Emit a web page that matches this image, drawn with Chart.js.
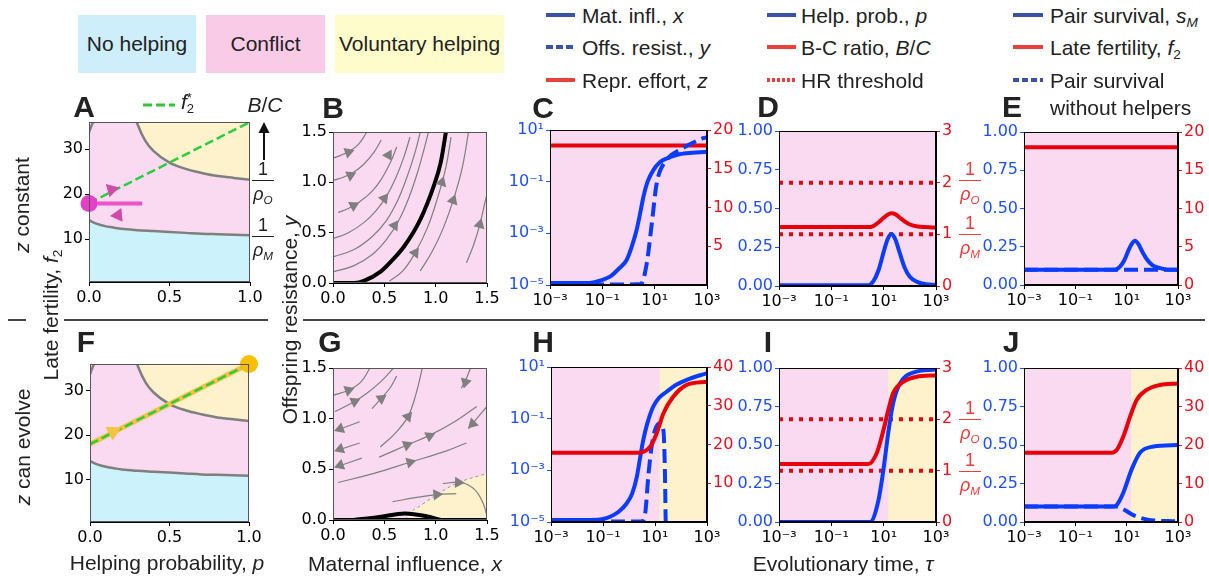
<!DOCTYPE html>
<html>
<head>
<meta charset="utf-8">
<title>Helping panels</title>
<script src="https://cdn.jsdelivr.net/npm/chart.js@4.4.1/dist/chart.umd.min.js"></script>
<style>
  body { margin: 0; width: 1209px; height: 578px; position: relative; overflow: hidden; background: #fff;
         font-family: 'Liberation Sans', Arial, sans-serif; color: #222; }
  canvas { position: absolute; }
  .c { position: absolute; transform: translate(-50%, -50%); white-space: nowrap; line-height: 1; font-size: 21px; z-index: 3; }
  .v { position: absolute; transform: translate(-50%, -50%) rotate(-90deg); white-space: nowrap; line-height: 1; font-size: 21px; z-index: 3; }
  .l { position: absolute; transform: translateY(-50%); white-space: nowrap; line-height: 1; font-size: 21px; z-index: 3; }
  .box { position: absolute; display: flex; align-items: center; justify-content: center; font-size: 21px; }
  .sw { position: absolute; height: 4px; transform: translateY(-50%); }
  .let { position: absolute; transform: translate(-50%, -50%); font-weight: bold; font-size: 30px; line-height: 1; z-index: 3; }
  .sep { position: absolute; height: 1.5px; background: #444; }
  .bar { position: absolute; height: 1.3px; z-index: 3; }
  sub { font-size: 0.65em; vertical-align: -0.3em; line-height: 0; }
</style>
</head>
<body>

<div class="box" style="left:78px;top:15px;width:118px;height:58px;background:#cdeefa">No helping</div>
<div class="box" style="left:206px;top:15px;width:119px;height:58px;background:#f9cbe6">Conflict</div>
<div class="box" style="left:335px;top:15px;width:169px;height:58px;background:#fefccb">Voluntary helping</div>

<div class="sw" style="left:546px;top:15px;width:29px;background:#3b52a5"></div>
<div class="l" style="left:582px;top:15px">Mat. infl., <i>x</i></div>
<div class="sw" style="left:546px;top:47px;width:29px;background:repeating-linear-gradient(90deg,#3b52a5 0 7px,transparent 7px 10px)"></div>
<div class="l" style="left:582px;top:47px">Offs. resist., <i>y</i></div>
<div class="sw" style="left:546px;top:80px;width:29px;background:#e8413c"></div>
<div class="l" style="left:582px;top:80px">Repr. effort, <i>z</i></div>

<div class="sw" style="left:767px;top:15px;width:29px;background:#3b52a5"></div>
<div class="l" style="left:801px;top:15px">Help. prob., <i>p</i></div>
<div class="sw" style="left:767px;top:47px;width:29px;background:#e8413c"></div>
<div class="l" style="left:801px;top:47px">B-C ratio, <i>B</i>/<i>C</i></div>
<div class="sw" style="left:767px;top:80px;width:29px;background:repeating-linear-gradient(90deg,#e8413c 0 3px,transparent 3px 5px)"></div>
<div class="l" style="left:801px;top:80px">HR threshold</div>

<div class="sw" style="left:1013px;top:15px;width:30px;background:#3b52a5"></div>
<div class="l" style="left:1050px;top:15px">Pair survival, <i>s<sub>M</sub></i></div>
<div class="sw" style="left:1013px;top:47px;width:30px;background:#e8413c"></div>
<div class="l" style="left:1050px;top:47px">Late fertility, <i>f</i><sub>2</sub></div>
<div class="sw" style="left:1013px;top:80px;width:30px;background:repeating-linear-gradient(90deg,#3b52a5 0 6px,transparent 6px 9px)"></div>
<div class="l" style="left:1050px;top:80px">Pair survival</div>
<div class="l" style="left:1050px;top:107px">without helpers</div>

<div class="let" style="left:84px;top:107px">A</div>
<div class="let" style="left:333px;top:108px">B</div>
<div class="let" style="left:543px;top:108px">C</div>
<div class="let" style="left:768px;top:107px">D</div>
<div class="let" style="left:1012px;top:107px">E</div>
<div class="let" style="left:86px;top:342px">F</div>
<div class="let" style="left:330px;top:342px">G</div>
<div class="let" style="left:543px;top:342px">H</div>
<div class="let" style="left:768px;top:342px">I</div>
<div class="let" style="left:1011px;top:342px">J</div>

<div class="sw" style="left:143px;top:105px;width:32px;height:3px;background:repeating-linear-gradient(90deg,#33c43a 0 9px,transparent 9px 13px)"></div>
<div class="l" style="left:181px;top:103px"><i>f</i><span style="display:inline-block;vertical-align:middle;font-size:13px;line-height:0.9"><span style="display:block">*</span><span style="display:block">2</span></span></div>
<div class="c" style="left:265px;top:104px"><i>B</i>/<i>C</i></div>
<svg style="position:absolute;left:257px;top:121px;z-index:3" width="14" height="42">
  <line x1="7" y1="10" x2="7" y2="39" stroke="#111" stroke-width="2"/>
  <polygon points="7,1 1.5,12 12.5,12" fill="#111"/>
</svg>

<div class="v" style="left:21px;top:205px"><i>z</i> constant</div>
<div class="v" style="left:22px;top:447px"><i>z</i> can evolve</div>
<div class="v" style="left:50px;top:315px">Late fertility, <i>f</i><sub>2</sub></div>
<div class="v" style="left:289px;top:320px">Offspring resistance, <i>y</i></div>
<div class="c" style="left:167px;top:562px">Helping probability, <i>p</i></div>
<div class="c" style="left:405px;top:563px">Maternal influence, <i>x</i></div>
<div class="c" style="left:843px;top:563px">Evolutionary time, <i>τ</i></div>

<div class="sep" style="left:8px;top:319px;width:18px"></div>
<div class="sep" style="left:64px;top:319px;width:204px"></div>
<div class="sep" style="left:303px;top:319px;width:902px"></div>

<script>
const BLUE = '#0a3cff', RED = '#e8000b', GREY = '#7f7f7f';
const TICK_BLUE = '#1f4fff', TICK_RED = '#e8101c';
const PINK = '#f9daf0', YELLOW = '#fdf2cc', CYAN = '#ccf3fb';

// ---- A / F: regions in (helping probability p, late fertility f2) ----
const pGrid = [0, 0.05, 0.1, 0.15, 0.2, 0.3, 0.4, 0.5, 0.6, 0.7, 0.8, 0.9, 1.0];
const lowerBound = [14.2, 13.4, 12.9, 12.6, 12.3, 12.0, 11.8, 11.6, 11.4, 11.2, 11.1, 11.0, 10.9];
const pUpper = [0.29, 0.3, 0.35, 0.4, 0.5, 0.6, 0.7, 0.8, 0.9, 1.0];
const upperBound = [36.7, 35.6, 31.8, 29.6, 27.0, 25.6, 24.7, 24.0, 23.6, 23.2];
const cornerP = [0, 0.012, 0.025];
const cornerF = [33.7, 34.9, 36];
const pStar = [0, 1];
const f2Star = [18, 36];
const helpStartP = [0, 0.33];
const helpStartF = [17.9, 17.9];
const aArrowP = [0.14, 0.18];
const aArrowF = [21.0, 15.3];
const aArrowRot = [75, 265];
const fArrowP = [0.145];
const fArrowF = [20.8];
const fArrowRot = [63];

// ---- B / G: maternal influence x vs offspring resistance y ----
const bNullX = [0, 0.21, 0.3, 0.46, 0.58, 0.69, 0.85, 0.98, 1.05, 1.1];
const bNullY = [0, 0, 0.02, 0.11, 0.23, 0.36, 0.63, 0.96, 1.2, 1.5];
const bStreams = [
  [[0, 1.24], [0.08, 1.27], [0.16, 1.31], [0.25, 1.38], [0.33, 1.5]],
  [[0, 1.02], [0.1, 1.05], [0.2, 1.1], [0.3, 1.18], [0.4, 1.3], [0.47, 1.42]],
  [[0.05, 0.7], [0.15, 0.74], [0.25, 0.8], [0.37, 0.9], [0.47, 1.03], [0.56, 1.2], [0.62, 1.35]],
  [[0, 0.44], [0.15, 0.5], [0.3, 0.6], [0.42, 0.72], [0.52, 0.86], [0.61, 1.04], [0.69, 1.25], [0.75, 1.45]],
  [[0, 0.26], [0.2, 0.33], [0.38, 0.46], [0.52, 0.62], [0.63, 0.82], [0.72, 1.05], [0.8, 1.3], [0.85, 1.5]],
  [[0, 0.11], [0.2, 0.17], [0.38, 0.28], [0.52, 0.43], [0.64, 0.62], [0.74, 0.85], [0.83, 1.12], [0.9, 1.38], [0.93, 1.5]],
  [[0.55, 0.02], [0.68, 0.12], [0.8, 0.3], [0.92, 0.55], [1.02, 0.85], [1.1, 1.15], [1.15, 1.45]],
  [[0.85, 0.12], [0.97, 0.32], [1.08, 0.56], [1.18, 0.85], [1.26, 1.15], [1.32, 1.5]],
  [[1.3, 0.2], [1.37, 0.38], [1.43, 0.58], [1.48, 0.8], [1.5, 0.88]]
];
const bArrows = [[0.15, 1.30, 70], [0.17, 1.07, 65], [0.2, 0.77, 62], [0.5, 0.84, 38], [0.6, 0.57, 35],
  [0.54, 1.27, 30], [1.06, 1.0, 18], [0.8, 0.3, 35], [1.17, 0.82, 20], [1.43, 0.58, 15]];

const gBaseX = [0, 1.5];
const gBaseY = [0, 0];
const gNullX = [0.2, 0.45, 0.7, 0.9, 1.05];
const gNullY = [0, 0.03, 0.065, 0.04, 0];
const gBoundX = [0.7, 0.75, 0.85, 0.98, 1.2, 1.5];
const gBoundY = [0, 0.07, 0.14, 0.23, 0.36, 0.46];
const gStreams = [
  [[0, 1.23], [0.15, 1.28], [0.27, 1.36], [0.36, 1.5]],
  [[0.02, 1.07], [0.21, 1.17], [0.33, 1.25], [0.46, 1.36], [0.59, 1.5]],
  [[0.38, 1.1], [0.47, 1.2], [0.56, 1.31], [0.62, 1.42]],
  [[0.46, 0.72], [0.6, 0.85], [0.73, 1.02], [0.81, 1.25], [0.87, 1.5]],
  [[0.05, 0.89], [0.26, 0.97]],
  [[0.05, 0.69], [0.26, 0.76]],
  [[0.05, 0.53], [0.28, 0.61]],
  [[0.05, 0.37], [0.4, 0.46], [0.75, 0.57], [1.1, 0.68], [1.3, 0.76]],
  [[0.45, 0.62], [0.72, 0.74], [0.95, 0.84], [1.2, 0.98], [1.4, 1.12]],
  [[1.25, 1.3], [1.3, 1.4], [1.34, 1.5]],
  [[1.32, 0.9], [1.4, 1.0], [1.5, 1.12]],
  [[0.58, 0.18], [0.8, 0.22], [1.01, 0.25], [1.2, 0.26]],
  [[1.07, 0.36], [1.25, 0.37], [1.38, 0.3], [1.46, 0.17], [1.5, 0.04]]
];
const gArrows = [[0.15, 1.28, 70], [0.21, 1.17, 65], [0.47, 1.2, 55], [0.73, 1.02, 40], [0.07, 0.9, 250],
  [0.07, 0.7, 250], [0.07, 0.54, 250], [0.75, 0.57, 75], [0.72, 0.74, 68], [0.94, 0.83, 65],
  [1.36, 0.95, 225], [1.29, 1.36, 195], [1.01, 0.25, 85], [1.22, 0.37, 92]];

// ---- C: z constant, trait dynamics ----
const tauMatC = [0.001, 0.0316, 0.1, 0.195, 0.4, 0.85, 1.35, 2.04, 2.82, 3.72, 5.37, 8.9, 15.8, 28.8, 79, 166, 1000];
const matInflC = [1.2e-5, 1.2e-5, 1.58e-5, 2.1e-5, 4e-5, 9.3e-5, 3.2e-4, 1.35e-3, 6.3e-3, 2.6e-2, 0.1, 0.28, 0.56, 0.79, 1.12, 1.26, 1.45];
const tauResC = [0.001, 1, 3, 5, 7.8, 12, 29, 93, 720, 1000];
const offsResC = [1.05e-5, 1.05e-5, 1.1e-5, 7e-5, 2.5e-3, 8.7e-2, 0.69, 1.7, 4.8, 5.2];
const tauFlat = [0.001, 1000];
const reprEffC = [18, 18];

// ---- D: helping probability and B/C ----
const tauD = [0.001, 2.5, 4, 6.3, 10, 14, 20, 28, 40, 63, 100, 200, 400, 1000];
const helpD = [0.005, 0.005, 0.03, 0.1, 0.22, 0.3, 0.335, 0.3, 0.22, 0.12, 0.06, 0.025, 0.012, 0.008];
const bcD = [1.14, 1.14, 1.16, 1.23, 1.32, 1.38, 1.41, 1.39, 1.33, 1.25, 1.19, 1.15, 1.14, 1.13];
const hrO = [2, 2];
const hrM = [1, 1];

// ---- E: pair survival and late fertility ----
const tauE = [0.001, 3.5, 5.5, 8, 12, 16, 21, 28, 40, 60, 100, 200, 400, 1000];
const survE = [0.1, 0.1, 0.12, 0.16, 0.23, 0.27, 0.29, 0.27, 0.22, 0.17, 0.13, 0.11, 0.1, 0.1];
const survNoHelpE = [0.1, 0.1];
const fertE = [18, 18];

// ---- H: z can evolve ----
const tauMatH = [0.001, 0.0316, 0.1, 0.186, 0.4, 0.81, 1.32, 2.0, 2.63, 3.55, 5.0, 8.5, 14.1, 28, 63, 166, 1000];
const matInflH = [1.2e-5, 1.2e-5, 1.3e-5, 1.6e-5, 2.5e-5, 5.2e-5, 1.26e-4, 5.6e-4, 2.8e-3, 1.5e-2, 6.3e-2, 0.29, 0.63, 1.1, 2.0, 3.2, 5.8];
const tauResH = [0.001, 3, 4.2, 5.5, 7.4, 10, 15.5, 21, 24, 25.7];
const offsResH = [1.05e-5, 1.05e-5, 2.2e-5, 5.6e-4, 8.3e-3, 3.6e-2, 6.6e-2, 3.6e-2, 1e-3, 1.1e-5];
const tauZH = [0.001, 2.3, 6.5, 11.7, 21, 50, 166, 1000];
const reprEffH = [17.9, 17.9, 19.4, 22.9, 28.0, 32.3, 35.4, 36.2];

// ---- I ----
const tauBcI = [0.001, 2.6, 5.4, 9.8, 15, 23, 56, 182, 1000];
const bcI = [1.13, 1.13, 1.34, 1.79, 2.18, 2.51, 2.73, 2.83, 2.86];
const tauHelpI = [0.001, 3.0, 6.3, 9.8, 15, 23, 42, 135, 1000];
const helpI = [0, 0, 0.14, 0.34, 0.58, 0.77, 0.9, 0.97, 0.99];

// ---- J ----
const tauFertJ = [0.001, 2.5, 4.1, 7.4, 13.5, 24.5, 60, 200, 1000];
const fertJ = [18, 18, 18.7, 22.2, 27.3, 31.7, 34.3, 35.6, 36.0];
const tauSurvJ = [0.001, 3.0, 4.1, 7.4, 15.5, 33, 110, 1000];
const survJ = [0.1, 0.1, 0.11, 0.19, 0.34, 0.45, 0.49, 0.5];
const tauNoHelpJ = [0.001, 4.1, 8, 18, 60, 1000];
const survNoHelpJ = [0.1, 0.1, 0.08, 0.045, 0.017, 0.003];

const regimeSwitch = 15; // tau where conflict turns into voluntary helping (H, I, J)

// tick values and labels
const logTauTicks = [1e-3, 1e-1, 1e1, 1e3];
const logTauLabels = ['10⁻³', '10⁻¹', '10¹', '10³'];
const logTraitTicks = [1e-5, 1e-3, 1e-1, 1e1];
const logTraitLabels = ['10⁻⁵', '10⁻³', '10⁻¹', '10¹'];
const probTicks = [0, 0.25, 0.5, 0.75, 1];
const probLabels = ['0.00', '0.25', '0.50', '0.75', '1.00'];

Chart.defaults.font.family = 'DejaVu Sans';

const AX = 56, XH = 26;

function xy(xs, ys) { return xs.map((x, i) => ({x, y: ys[i]})); }
function pairs(list) { return list.map(([x, y]) => ({x, y})); }

function axis(o) {
  const color = o.color || '#000';
  return {
    type: o.type || 'linear', min: o.min, max: o.max, position: o.position, bounds: 'data',
    grid: {display: true, drawOnChartArea: false, drawTicks: true, tickLength: 4, color: color, tickColor: color},
    border: {display: true, color: '#000', width: 1},
    ticks: {color: color, font: {size: 16}, padding: 2, autoSkip: false, maxRotation: 0,
            callback: (v, i) => o.labels[i]},
    afterBuildTicks: s => { s.ticks = o.ticks.map(v => ({value: v})); },
    afterFit: s => { if (s.isHorizontal()) s.height = XH; else s.width = AX; }
  };
}

function bgPlugin(bg, bands, frame) {
  return {
    id: 'panelBg',
    beforeDraw(chart) {
      const {ctx, chartArea: a, scales} = chart;
      ctx.save();
      ctx.fillStyle = bg;
      ctx.fillRect(a.left, a.top, a.width, a.height);
      bands.forEach(([from, to, color]) => {
        const x0 = scales.x.getPixelForValue(from), x1 = scales.x.getPixelForValue(to);
        ctx.fillStyle = color;
        ctx.fillRect(x0, a.top, x1 - x0, a.height);
      });
      ctx.restore();
    },
    afterDraw(chart) {
      const {ctx, chartArea: a} = chart;
      ctx.save();
      ctx.strokeStyle = frame;
      ctx.lineWidth = 1;
      ctx.strokeRect(Math.round(a.left) + 0.5, Math.round(a.top) + 0.5, Math.round(a.width) - 1, Math.round(a.height) - 1);
      ctx.restore();
    }
  };
}

function makePanel(rect, o) {
  const [l, t, r, b] = rect;
  const PL = 62, PR = 62, PT = 18, PB = 32;
  const cv = document.createElement('canvas');
  cv.width = (r - l) + PL + PR;
  cv.height = (b - t) + PT + PB;
  cv.style.left = (l - PL) + 'px';
  cv.style.top = (t - PT) + 'px';
  document.body.appendChild(cv);
  const scales = {x: o.x, y: o.y};
  if (o.y2) scales.y2 = o.y2;
  return new Chart(cv, {
    type: 'line',
    data: {datasets: o.datasets},
    options: {
      responsive: false, animation: false, devicePixelRatio: 1,
      layout: {padding: {left: PL - AX, right: o.y2 ? PR - AX : PR, top: PT, bottom: PB - XH}},
      plugins: {legend: {display: false}, tooltip: {enabled: false}},
      elements: {point: {radius: 0, hoverRadius: 0}},
      scales
    },
    plugins: [bgPlugin(o.bg || PINK, o.bands || [], o.frame || '#000')]
  });
}

function curve(data, color, width, extra) {
  return Object.assign({data, borderColor: color, borderWidth: width, pointRadius: 0, fill: false,
    cubicInterpolationMode: 'monotone'}, extra || {});
}
function stream(s) {
  return {data: pairs(s), borderColor: GREY, borderWidth: 1.2, tension: 0.4, pointRadius: 0, fill: false};
}
function marks(data, color, radius, style, rot, extra) {
  return Object.assign({data, showLine: false, pointStyle: style, pointRadius: radius, pointRotation: rot || 0,
    pointBackgroundColor: color, pointBorderColor: color, pointBorderWidth: 0}, extra || {});
}

// ---------- A ----------
const pAxis = () => axis({min: 0, max: 1, ticks: [0, 0.5, 1], labels: ['0.0', '0.5', '1.0']});
const fAxis = () => axis({min: 0.5, max: 36, ticks: [10, 20, 30], labels: ['10', '20', '30']});
function regionSets() {
  return [
    curve(xy(cornerP, cornerF), GREY, 2.5, {cubicInterpolationMode: 'default'}),
    curve(xy(pUpper, upperBound), GREY, 2.5, {fill: 'end', backgroundColor: YELLOW}),
    curve(xy(pGrid, lowerBound), GREY, 2.5, {fill: 'start', backgroundColor: CYAN})
  ];
}
makePanel([89, 122, 250, 282], {
  x: pAxis(), y: fAxis(), frame: '#555',
  datasets: [
    marks(xy([0], [17.9]), '#e33fc8', 8.5, 'circle', 0, {clip: false}),
    marks(xy(aArrowP, aArrowF), '#d24aa8', 8, 'triangle', aArrowRot),
    curve(xy(helpStartP, helpStartF), '#f050c8', 4),
    curve(xy(pStar, f2Star), '#2ecc40', 2.5, {borderDash: [9, 4]}),
    ...regionSets()
  ]
});

// ---------- F ----------
makePanel([90, 364, 249, 522], {
  x: pAxis(), y: fAxis(), frame: '#555',
  datasets: [
    marks(xy([1], [36]), '#f7c000', 9, 'circle', 0, {clip: false}),
    marks(xy(fArrowP, fArrowF), '#f5c242', 9, 'triangle', fArrowRot),
    curve(xy(pStar, f2Star), '#2ecc40', 2.5, {borderDash: [9, 4]}),
    curve(xy(pStar, f2Star), '#f5c242', 5),
    ...regionSets()
  ]
});

// ---------- B ----------
const xyAxis15 = () => axis({min: 0, max: 1.5, ticks: [0, 0.5, 1, 1.5], labels: ['0.0', '0.5', '1.0', '1.5']});
makePanel([333, 132, 487, 283], {
  x: xyAxis15(), y: xyAxis15(), frame: '#555',
  datasets: [
    marks(pairs(bArrows), GREY, 6.5, 'triangle', bArrows.map(a => a[2])),
    curve(xy(bNullX, bNullY), '#000', 4),
    ...bStreams.map(stream)
  ]
});

// ---------- G ----------
makePanel([333, 368, 487, 520], {
  x: xyAxis15(), y: xyAxis15(), frame: '#555',
  datasets: [
    marks(pairs(gArrows), GREY, 6.5, 'triangle', gArrows.map(a => a[2])),
    curve(xy(gBaseX, gBaseY), '#000', 4),
    curve(xy(gNullX, gNullY), '#000', 4),
    ...gStreams.map(stream),
    curve(xy(gBoundX, gBoundY), '#999', 1, {borderDash: [3, 3], fill: 'start', backgroundColor: YELLOW})
  ]
});

// ---------- log-time panels ----------
const tauAxis = () => axis({type: 'logarithmic', min: 1e-3, max: 1e3, ticks: logTauTicks, labels: logTauLabels});
const traitAxis = () => axis({type: 'logarithmic', min: 1e-5, max: 10, ticks: logTraitTicks, labels: logTraitLabels, color: TICK_BLUE});
const probAxis = () => axis({min: 0, max: 1, ticks: probTicks, labels: probLabels, color: TICK_BLUE});
const redAxis = (max, ticks) => axis({min: 0, max, ticks, labels: ticks.map(String), color: TICK_RED, position: 'right'});
const regimeBands = [[1e-3, regimeSwitch, PINK], [regimeSwitch, 1e3, YELLOW]];

makePanel([550, 130, 707, 285], {
  x: tauAxis(), y: traitAxis(), y2: redAxis(20, [5, 10, 15, 20]),
  datasets: [
    curve(xy(tauResC, offsResC), BLUE, 4, {borderDash: [14, 6]}),
    curve(xy(tauMatC, matInflC), BLUE, 4),
    curve(xy(tauFlat, reprEffC), RED, 4, {yAxisID: 'y2'})
  ]
});

makePanel([779, 131, 936, 286], {
  x: tauAxis(), y: probAxis(), y2: redAxis(3, [0, 1, 2, 3]),
  datasets: [
    curve(xy(tauD, helpD), BLUE, 4),
    curve(xy(tauD, bcD), RED, 4, {yAxisID: 'y2'}),
    curve(xy(tauFlat, hrO), RED, 4, {yAxisID: 'y2', borderDash: [4, 6]}),
    curve(xy(tauFlat, hrM), RED, 4, {yAxisID: 'y2', borderDash: [4, 6]})
  ]
});

makePanel([1024, 132, 1178, 285], {
  x: tauAxis(), y: probAxis(), y2: redAxis(20, [0, 5, 10, 15, 20]),
  datasets: [
    curve(xy(tauE, survE), BLUE, 4),
    curve(xy(tauFlat, survNoHelpE), BLUE, 4, {borderDash: [14, 6]}),
    curve(xy(tauFlat, fertE), RED, 4, {yAxisID: 'y2'})
  ]
});

makePanel([551, 367, 707, 522], {
  x: tauAxis(), y: traitAxis(), y2: redAxis(40, [10, 20, 30, 40]), bands: regimeBands,
  datasets: [
    curve(xy(tauZH, reprEffH), RED, 4, {yAxisID: 'y2'}),
    curve(xy(tauMatH, matInflH), BLUE, 4),
    curve(xy(tauResH, offsResH), BLUE, 4, {borderDash: [14, 6]})
  ]
});

makePanel([779, 368, 936, 522], {
  x: tauAxis(), y: probAxis(), y2: redAxis(3, [0, 1, 2, 3]), bands: regimeBands,
  datasets: [
    curve(xy(tauBcI, bcI), RED, 4, {yAxisID: 'y2'}),
    curve(xy(tauHelpI, helpI), BLUE, 4),
    curve(xy(tauFlat, hrO), RED, 4, {yAxisID: 'y2', borderDash: [4, 6]}),
    curve(xy(tauFlat, hrM), RED, 4, {yAxisID: 'y2', borderDash: [4, 6]})
  ]
});

makePanel([1024, 368, 1178, 522], {
  x: tauAxis(), y: probAxis(), y2: redAxis(40, [0, 10, 20, 30, 40]), bands: regimeBands,
  datasets: [
    curve(xy(tauFertJ, fertJ), RED, 4, {yAxisID: 'y2'}),
    curve(xy(tauSurvJ, survJ), BLUE, 4),
    curve(xy(tauNoHelpJ, survNoHelpJ), BLUE, 4, {borderDash: [14, 6]})
  ]
});

// fraction labels 1/rho beside the axes
function frac(x, yBar, sub, color, w) {
  const one = document.createElement('div');
  one.className = 'c'; one.style.cssText = `left:${x}px;top:${yBar - 11}px;font-size:18px;color:${color}`;
  one.textContent = '1';
  const bar = document.createElement('div');
  bar.className = 'bar'; bar.style.cssText = `left:${x - w / 2}px;top:${yBar}px;width:${w}px;background:${color}`;
  const rho = document.createElement('div');
  rho.className = 'c'; rho.style.cssText = `left:${x}px;top:${yBar + 14}px;font-size:18px;color:${color}`;
  rho.innerHTML = `<i>ρ<sub>${sub}</sub></i>`;
  document.body.append(one, bar, rho);
}
frac(263, 180, 'O', '#222', 22);
frac(263, 235.5, 'M', '#222', 22);
frac(970, 180, 'O', '#ee3b3b', 22);
frac(970, 234, 'M', '#ee3b3b', 22);
frac(970, 419, 'O', '#ee3b3b', 22);
frac(970, 471, 'M', '#ee3b3b', 22);
</script>
</body>
</html>
